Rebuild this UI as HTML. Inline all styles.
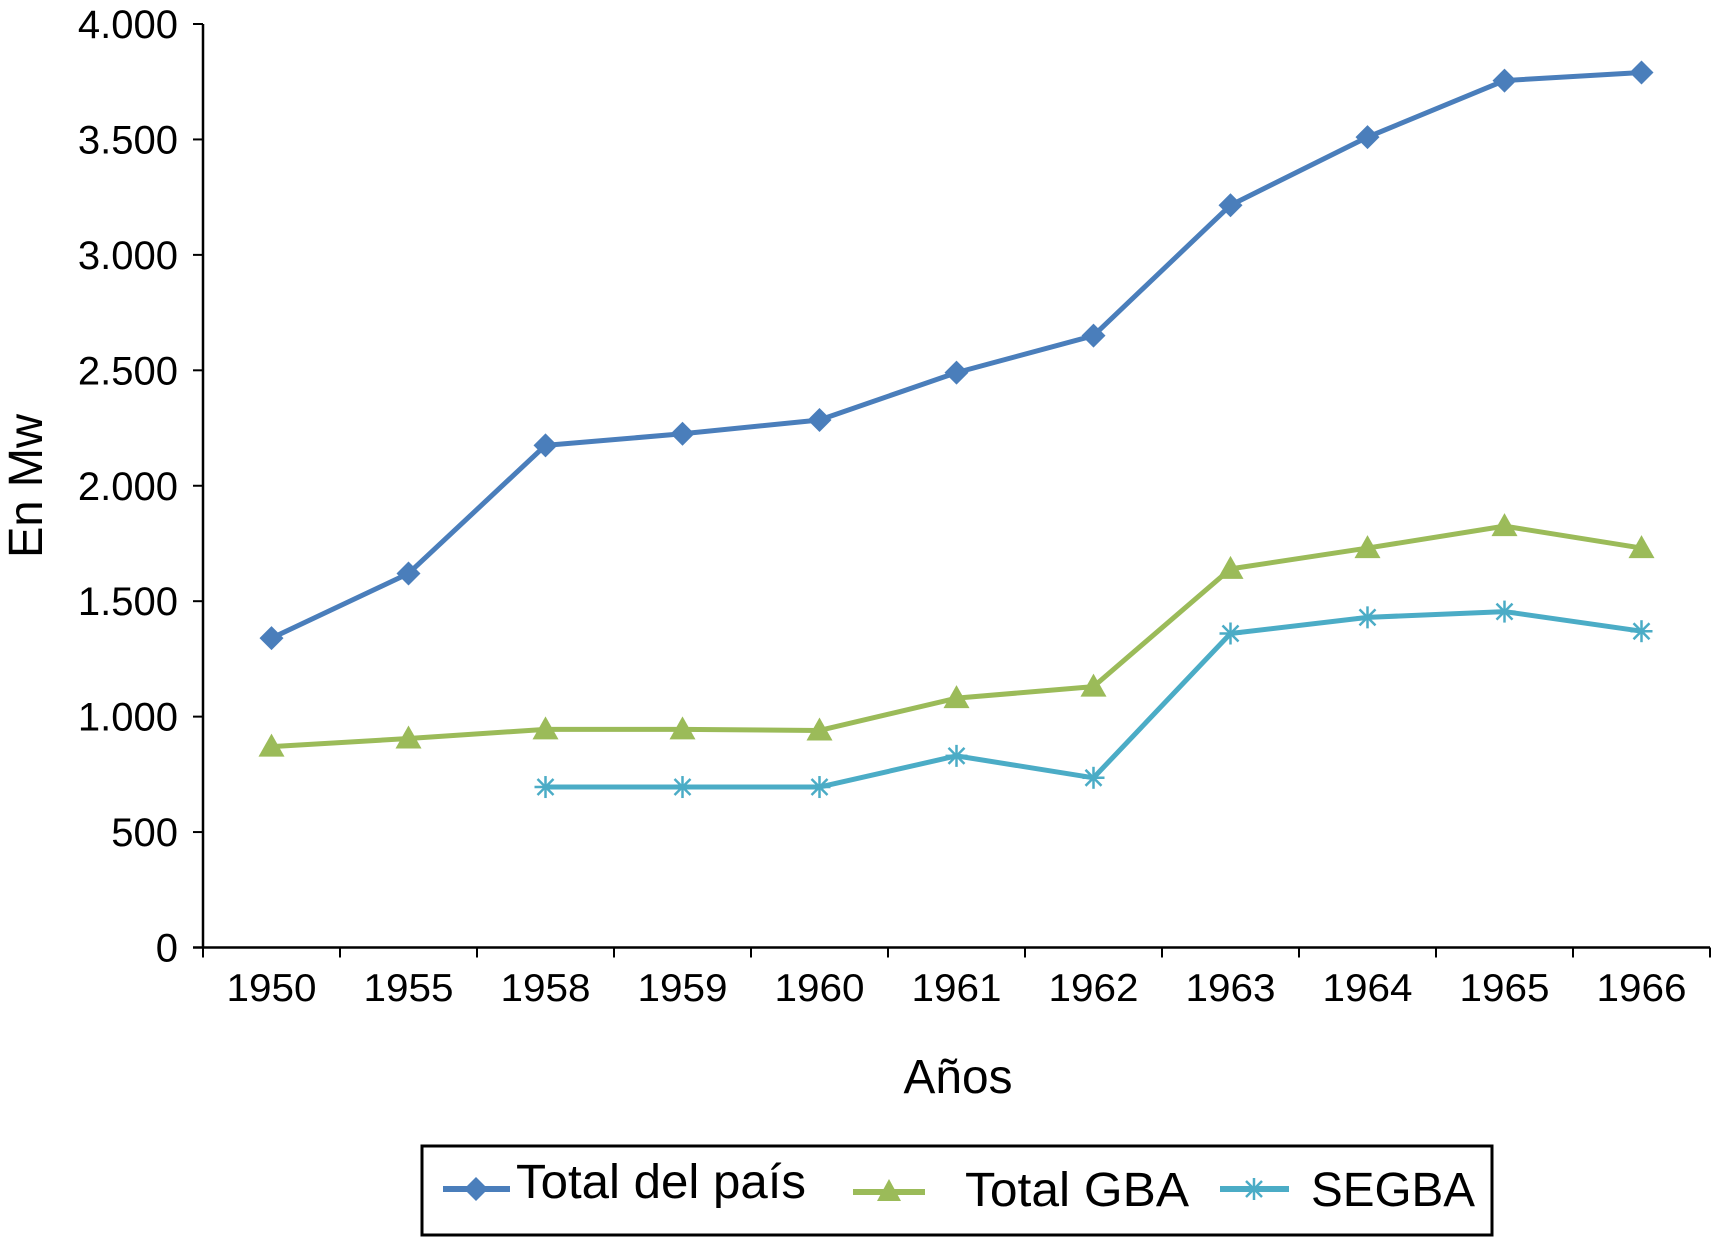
<!DOCTYPE html>
<html><head><meta charset="utf-8"><style>
html,body{margin:0;padding:0;background:#fff;}
svg{display:block;font-family:"Liberation Sans",sans-serif;}
</style></head><body>
<svg id="chart" width="1713" height="1237" viewBox="0 0 1713 1237">
<g id="axes"></g><g id="series"></g>
<text x="42" y="486" font-size="48" text-anchor="middle" transform="rotate(-90 42 486)" textLength="144" lengthAdjust="spacingAndGlyphs">En Mw</text>
<text x="958" y="1093" font-size="48" text-anchor="middle" textLength="109" lengthAdjust="spacingAndGlyphs">Años</text>
<g>
<rect x="422" y="1146" width="1070" height="89" fill="#fff" stroke="#000" stroke-width="3"/>
<g>
<line x1="443" y1="1189" x2="510" y2="1189" stroke="#4a7ebb" stroke-width="6"/>
<polygon points="476,1177 488,1189 476,1201 464,1189" fill="#4a7ebb"/>
<text x="516" y="1198" font-size="48" textLength="290" lengthAdjust="spacingAndGlyphs">Total del país</text></g>
<g>
<line x1="853" y1="1192" x2="925" y2="1192" stroke="#9bbb59" stroke-width="6"/>
<polygon points="889,1179 901,1201 877,1201" fill="#9bbb59"/>
<text x="965" y="1206" font-size="48" textLength="224" lengthAdjust="spacingAndGlyphs">Total GBA</text></g>
<g>
<line x1="1220" y1="1189" x2="1289" y2="1189" stroke="#4bacc6" stroke-width="6"/>
<text x="1311" y="1206" font-size="48" textLength="164" lengthAdjust="spacingAndGlyphs">SEGBA</text></g>
</g>
<script>
const categories=["1950","1955","1958","1959","1960","1961","1962","1963","1964","1965","1966"];
const totalPais=[1340,1620,2175,2225,2285,2490,2650,3215,3510,3755,3790];
const totalGBA=[870,905,945,945,940,1080,1130,1640,1730,1825,1730];
const segba=[null,null,695,695,695,830,735,1360,1430,1455,1370];
const yTicks=[0,500,1000,1500,2000,2500,3000,3500,4000];
const yTickLabels=["0","500","1.000","1.500","2.000","2.500","3.000","3.500","4.000"];
const NS="http://www.w3.org/2000/svg";
const X0=203,X1=1710,Y0=947.5,Y1=24,YMAX=4000;
const step=(X1-X0)/categories.length;
function xs(i){return X0+step*(i+0.5);}
function ys(v){return Y0-(v/YMAX)*(Y0-Y1);}
function mk(tag,attrs,parent){const e=document.createElementNS(NS,tag);for(const k in attrs)e.setAttribute(k,attrs[k]);parent.appendChild(e);return e;}
const ax=document.getElementById('axes');
let l=mk('line',{x1:X0,y1:Y1,x2:X0,y2:Y0,stroke:'#000','stroke-width':2.5},ax);


l=mk('line',{x1:X0-10,y1:Y0,x2:X1,y2:Y0,stroke:'#000','stroke-width':2.5},ax);


yTicks.forEach((v,i)=>{
 mk('line',{x1:X0-10,y1:ys(v),x2:X0,y2:ys(v),stroke:'#000','stroke-width':2},ax);
 const t=mk('text',{x:178,y:ys(v)+14,'font-size':40,'text-anchor':'end'},ax);
 t.textContent=yTickLabels[i];
 
 
});
for(let i=0;i<=categories.length;i++){mk('line',{x1:X0+step*i,y1:Y0,x2:X0+step*i,y2:Y0+10,stroke:'#000','stroke-width':2},ax);}
categories.forEach((c,i)=>{
 const t=mk('text',{x:xs(i),y:1001,'font-size':39,'text-anchor':'middle',textLength:90,lengthAdjust:'spacingAndGlyphs'},ax);
 t.textContent=c;
 
 
});
const sg=document.getElementById('series');
function line(vals,color,name){
 let d='';let pen=false;
 vals.forEach((v,i)=>{if(v==null){pen=false;return;}d+=(pen?'L':'M')+xs(i)+' '+ys(v);pen=true;});
 const p=mk('path',{d:d,fill:'none',stroke:color,'stroke-width':5,'stroke-linejoin':'round'},sg);
 
 
}
line(totalPais,'#4a7ebb','total-pais');
line(totalGBA,'#9bbb59','total-gba');
line(segba,'#4bacc6','segba');
totalPais.forEach((v,i)=>{const x=xs(i),y=ys(v);
 const m=mk('polygon',{points:`${x},${y-12} ${x+12},${y} ${x},${y+12} ${x-12},${y}`,fill:'#4a7ebb'},sg);
 
 });
totalGBA.forEach((v,i)=>{const x=xs(i),y=ys(v);
 const m=mk('polygon',{points:`${x},${y-13} ${x+13},${y+10} ${x-13},${y+10}`,fill:'#9bbb59'},sg);
 
 });
segba.forEach((v,i)=>{if(v==null)return;const x=xs(i),y=ys(v);
 const g=mk('g',{stroke:'#4bacc6','stroke-width':2.5},sg);
 
 
 mk('line',{x1:x-11,y1:y,x2:x+11,y2:y},g);mk('line',{x1:x,y1:y-11,x2:x,y2:y+11},g);
 mk('line',{x1:x-8,y1:y-8,x2:x+8,y2:y+8},g);mk('line',{x1:x-8,y1:y+8,x2:x+8,y2:y-8},g);});
const lg=mk('g',{stroke:'#4bacc6','stroke-width':2.5},document.getElementById('chart'));


[[1254,1178,1254,1200],[1246,1181,1262,1197],[1246,1197,1262,1181]].forEach(a=>mk('line',{x1:a[0],y1:a[1],x2:a[2],y2:a[3]},lg));
</script>
</svg>
</body></html>
